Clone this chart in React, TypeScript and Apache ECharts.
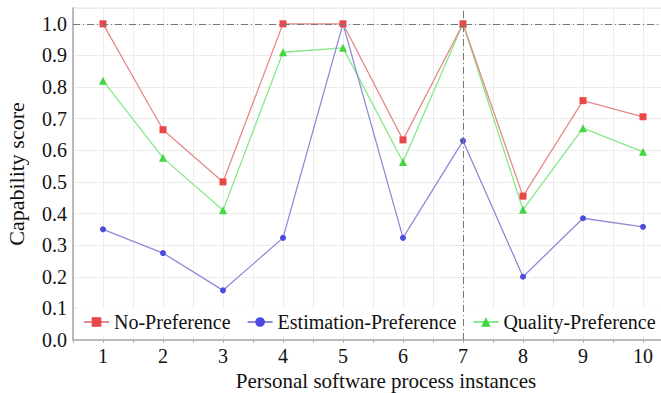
import React, { useEffect, useRef } from "react";
import * as echarts from "echarts";

const instances = [1, 2, 3, 4, 5, 6, 7, 8, 9, 10];
const noPreference = [1.0, 0.665, 0.5, 1.0, 1.0, 0.633, 1.0, 0.455, 0.757, 0.706];
const estimationPreference = [0.35, 0.275, 0.157, 0.323, 1.0, 0.323, 0.63, 0.2, 0.385, 0.358];
const qualityPreference = [0.82, 0.576, 0.41, 0.91, 0.924, 0.563, 1.0, 0.412, 0.67, 0.595];
const seriesNames = ["No-Preference", "Estimation-Preference", "Quality-Preference"];
const crosshairX = 7;
const crosshairY = 1.0;

const FONT = "Liberation Serif";

export default function App() {
  const ref = useRef<HTMLDivElement>(null);
  useEffect(() => {
    if (!ref.current) return;
    const chart = echarts.init(ref.current, undefined, { renderer: "svg" });
    const toPairs = (arr: number[]) => instances.map((x, i) => [x, arr[i]]);
    chart.setOption({
      animation: false,
      backgroundColor: "#ffffff",
      textStyle: { fontFamily: FONT },
      grid: {
        left: 73,
        right: -12,
        top: 8,
        bottom: 53,
        containLabel: false,
        outerBoundsMode: "none",
        show: true,
        borderColor: "#e2e2e2",
        borderWidth: 1,
      },
      legend: {
        data: seriesNames,
        left: 78,
        top: 308,
        width: 600,
        itemGap: 16,
        itemWidth: 25,
        itemHeight: 12,
        padding: [4, 5, 4, 5],
        backgroundColor: "rgba(255,255,255,0.9)",
        textStyle: { fontFamily: FONT, fontSize: 20, color: "#111" },
      },
      xAxis: {
        type: "value",
        min: 0.5,
        max: 10.5,
        interval: 0.5,
        name: "Personal software process instances",
        nameLocation: "middle",
        nameGap: 29,
        nameTextStyle: {
          fontFamily: FONT,
          fontSize: 21,
          color: "#111",
          padding: [0, 0, 0, 26],
        },
        axisLine: { show: true, onZero: false, lineStyle: { color: "#a8a8a8", width: 1.5 } },
        axisTick: { show: true, length: 3, lineStyle: { color: "#b0b0b0" } },
        axisLabel: {
          fontFamily: FONT,
          fontSize: 20,
          color: "#111",
          margin: 6,
          showMinLabel: true,
          showMaxLabel: true,
          formatter: (v: number) =>
            Number.isInteger(v) && v >= 1 && v <= 10 ? String(v) : "",
        },
        splitLine: { show: true, lineStyle: { color: "#ececec", width: 1 } },
      },
      yAxis: {
        type: "value",
        min: 0,
        max: 1.05,
        interval: 0.1,
        name: "Capability score",
        nameLocation: "middle",
        nameGap: 46,
        nameRotate: 90,
        nameTextStyle: { fontFamily: FONT, fontSize: 22, color: "#111" },
        axisLine: { show: true, lineStyle: { color: "#a8a8a8", width: 1.5 } },
        axisTick: { show: false },
        axisLabel: {
          fontFamily: FONT,
          fontSize: 20,
          color: "#111",
          margin: 6,
          formatter: (v: number) => (v > 1.0001 ? "" : v.toFixed(1)),
        },
        splitLine: { show: true, lineStyle: { color: "#ececec", width: 1 } },
      },
      series: [
        {
          name: seriesNames[2],
          type: "line",
          data: toPairs(qualityPreference),
          symbol: "triangle",
          symbolSize: 8,
          itemStyle: { color: "#3fd83f" },
          lineStyle: { color: "#86e886", width: 1.3 },
          z: 2,
        },
        {
          name: seriesNames[1],
          type: "line",
          data: toPairs(estimationPreference),
          symbol: "circle",
          symbolSize: 6,
          itemStyle: { color: "#4b4be0" },
          lineStyle: { color: "#8c8cd8", width: 1.3 },
          z: 3,
        },
        {
          name: seriesNames[0],
          type: "line",
          data: toPairs(noPreference),
          symbol: "rect",
          symbolSize: 7,
          itemStyle: { color: "#e84848" },
          lineStyle: { color: "#e58a8a", width: 1.3 },
          z: 4,
          markLine: {
            silent: true,
            symbol: "none",
            label: { show: false },
            lineStyle: { color: "#777", width: 1, type: [7, 3, 1, 3] },
            data: [{ xAxis: crosshairX }, { yAxis: crosshairY }],
          },
        },
      ],
    });
    return () => chart.dispose();
  }, []);
  return (
    <div
      ref={ref}
      style={{ position: "absolute", left: 0, top: 0, width: 661, height: 393 }}
    />
  );
}
